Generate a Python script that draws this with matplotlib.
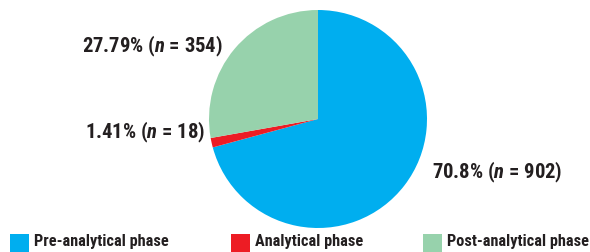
import matplotlib
matplotlib.use("Agg")
import matplotlib.pyplot as plt
import matplotlib.font_manager as fm
from matplotlib.patches import Rectangle

categories = ["Pre-analytical phase", "Analytical phase", "Post-analytical phase"]
percentages = [70.8, 1.41, 27.79]
counts = [902, 18, 354]
colors = ["#00AEEF", "#ED1C24", "#97D2AC"]

# pick a bold condensed sans font that is installed
candidates = ["Roboto Condensed", "PT Sans Narrow", "Archivo Narrow", "Liberation Sans Narrow",
              "Pragati Narrow", "Encode Sans Condensed", "Fira Sans Condensed",
              "IBM Plex Sans Condensed", "Barlow Semi Condensed", "Asap Condensed",
              "Sofia Sans Condensed", "Saira SemiCondensed"]
bold_names = {f.name for f in fm.fontManager.ttflist if f.weight in (700, "bold")}
FONT = next((c for c in candidates if c in bold_names), "Liberation Sans")

plt.rcParams["mathtext.fontset"] = "custom"
plt.rcParams["mathtext.it"] = f"{FONT}:italic:bold"
plt.rcParams["mathtext.rm"] = f"{FONT}:bold"

W, H = 590, 253
fig = plt.figure(figsize=(W / 100, H / 100), dpi=100)
fontfam = [FONT, "DejaVu Sans"]
txtcol = "#231F20"

cx, cy, r = 318, 120, 109
ax = fig.add_axes([(cx - r) / W, (H - cy - r) / H, 2 * r / W, 2 * r / H])
ax.pie(percentages, colors=colors, startangle=90, counterclock=False,
       wedgeprops=dict(linewidth=0))
ax.set_xlim(-1, 1)
ax.set_ylim(-1, 1)
ax.set_aspect("equal")
ax.axis("off")

renderer = fig.canvas.get_renderer()


def fit(texts, widths):
    # scale a group's font size so its mean width matches the target widths
    ratios = []
    for t, w in zip(texts, widths):
        ratios.append(w / t.get_window_extent(renderer).width)
    s = sum(ratios) / len(ratios)
    for t in texts:
        t.set_fontsize(t.get_fontsize() * s)


# Slice labels
label_pos = [(432, 172, "left"), (205, 132, "right"), (223, 46, "right")]
label_w = [131, 120, 141]
labels = []
for (x, y, ha), p, n in zip(label_pos, percentages, counts):
    labels.append(fig.text(x / W, 1 - y / H, f"{p:g}% ($n$ = {n})",
                           ha=ha, va="center", fontsize=12, fontweight="bold",
                           family=fontfam, color=txtcol))
fit(labels, label_w)

# Legend
leg_x = [10, 231, 423]
leg_w = [135, 108, 140]
leg_texts = []
for x, c, name in zip(leg_x, colors, categories):
    fig.patches.append(Rectangle((x / W, 0), 19 / W, 18 / H,
                                 transform=fig.transFigure, facecolor=c,
                                 edgecolor="none"))
    leg_texts.append(fig.text((x + 24) / W, 1 - 242 / H, name, ha="left", va="center",
                              fontsize=10, fontweight="bold", family=fontfam, color=txtcol))
fit(leg_texts, leg_w)

fig.savefig("out.png", dpi=100)
